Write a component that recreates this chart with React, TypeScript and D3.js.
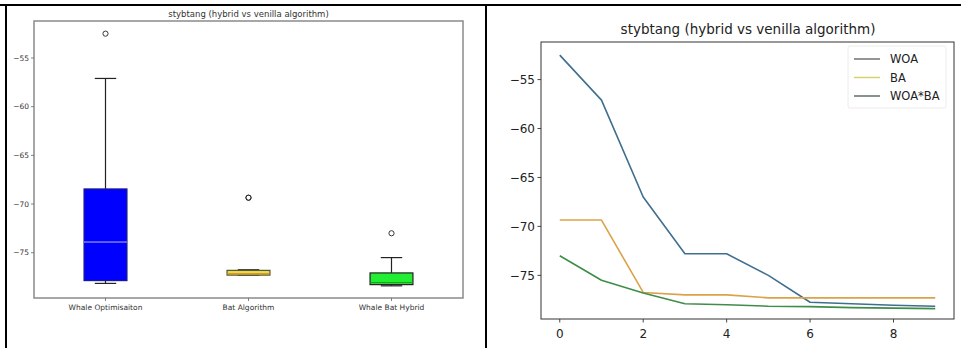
import React from "react";
import * as d3 from "d3";

// Best fitness per iteration for each algorithm (stybtang function)
const iterations = [0, 1, 2, 3, 4, 5, 6, 7, 8, 9];
const woa = [-52.5, -57.1, -67.0, -72.8, -72.8, -75.0, -77.75, -77.9, -78.05, -78.15];
const ba = [-69.35, -69.35, -76.75, -77.0, -77.0, -77.3, -77.3, -77.3, -77.3, -77.3];
const hybrid = [-73.0, -75.5, -76.8, -77.9, -78.0, -78.15, -78.2, -78.3, -78.35, -78.4];

const boxCategories = ["Whale Optimisaiton", "Bat Algorithm", "Whale Bat Hybrid"];
const legendLabels = ["WOA", "BA", "WOA*BA"];
const yTicks = [-55, -60, -65, -70, -75];
const xTicks = [0, 2, 4, 6, 8];
const title = "stybtang (hybrid vs venilla algorithm)";

const FONT = "DejaVu Sans, sans-serif";
const minus = (v: number) => String(v).replace("-", "\u2212");

type BoxStats = { q1: number; med: number; q3: number; lo: number; hi: number; out: number[] };

function boxStats(values: number[]): BoxStats {
  const s = [...values].sort(d3.ascending);
  const q1 = d3.quantile(s, 0.25)!;
  const med = d3.quantile(s, 0.5)!;
  const q3 = d3.quantile(s, 0.75)!;
  const iqr = q3 - q1;
  const inside = s.filter((v) => v >= q1 - 1.5 * iqr && v <= q3 + 1.5 * iqr);
  return {
    q1,
    med,
    q3,
    lo: d3.min(inside)!,
    hi: d3.max(inside)!,
    out: s.filter((v) => v < q1 - 1.5 * iqr || v > q3 + 1.5 * iqr),
  };
}

function BoxPanel() {
  const L = 34, R = 463, T = 21, B = 298;
  const x = d3.scalePoint<string>().domain(boxCategories).range([L, R]).padding(0.5);
  const y = d3.scaleLinear().domain([-79.65, -51.2]).range([B, T]);
  const bw = x.step() * 0.3;
  const series = [woa, ba, hybrid];
  const fills = ["#0000ff", "#e4dc4a", "#22ee33"];
  const edges = ["#1a1a8a", "#555533", "#222222"];
  const meds = ["#b8b8ff", "#e08a20", "#2a8a2a"];
  return (
    <g>
      <text x={(L + R) / 2} y={17} textAnchor="middle" fontSize={8.5} fontFamily={FONT} fill="#333">
        {title}
      </text>
      {series.map((vals, i) => {
        const st = boxStats(vals);
        const cx = x(boxCategories[i])!;
        return (
          <g key={i}>
            <line x1={cx} x2={cx} y1={y(st.q3)} y2={y(st.hi)} stroke="#222" strokeWidth={1.2} />
            <line x1={cx} x2={cx} y1={y(st.q1)} y2={y(st.lo)} stroke="#222" strokeWidth={1.2} />
            <line x1={cx - bw / 4} x2={cx + bw / 4} y1={y(st.hi)} y2={y(st.hi)} stroke="#222" strokeWidth={1.2} />
            <line x1={cx - bw / 4} x2={cx + bw / 4} y1={y(st.lo)} y2={y(st.lo)} stroke="#222" strokeWidth={1.2} />
            <rect
              x={cx - bw / 2}
              y={y(st.q3)}
              width={bw}
              height={y(st.q1) - y(st.q3)}
              fill={fills[i]}
              stroke={edges[i]}
              strokeWidth={1.2}
            />
            <line x1={cx - bw / 2} x2={cx + bw / 2} y1={y(st.med)} y2={y(st.med)} stroke={meds[i]} strokeWidth={1} />
            {st.out.map((v, j) => (
              <circle key={j} cx={cx} cy={y(v)} r={2.6} fill="none" stroke="#222" strokeWidth={0.9} />
            ))}
          </g>
        );
      })}
      <rect x={L} y={T} width={R - L} height={B - T} fill="none" stroke="#8a8a8a" strokeWidth={1.5} />
      {yTicks.map((t) => (
        <g key={t}>
          <line x1={L - 3} x2={L} y1={y(t)} y2={y(t)} stroke="#666" strokeWidth={0.8} />
          <text x={L - 5} y={y(t) + 2.6} textAnchor="end" fontSize={7.5} fontFamily={FONT} fill="#333">
            {minus(t)}
          </text>
        </g>
      ))}
      {boxCategories.map((c) => (
        <g key={c}>
          <line x1={x(c)} x2={x(c)} y1={B} y2={B + 3} stroke="#666" strokeWidth={0.8} />
          <text x={x(c)} y={B + 12} textAnchor="middle" fontSize={7.5} fontFamily={FONT} fill="#333">
            {c}
          </text>
        </g>
      ))}
    </g>
  );
}

function LinePanel() {
  const L = 541, R = 954, T = 42, B = 319;
  const x = d3.scaleLinear().domain([-0.45, 9.45]).range([L, R]);
  const y = d3.scaleLinear().domain([-79.46, -51.16]).range([B, T]);
  const line = d3
    .line<number>()
    .x((_, i) => x(iterations[i]))
    .y((d) => y(d));
  const series = [woa, ba, hybrid];
  const colors = ["#3f6f8f", "#dca24a", "#3f8d48"];
  const legendColors = ["#707070", "#d6d070", "#5f6f6a"];
  return (
    <g>
      <text x={748} y={34} textAnchor="middle" fontSize={13.5} fontFamily={FONT} fill="#222">
        {title}
      </text>
      {series.map((s, i) => (
        <path key={i} d={line(s)!} fill="none" stroke={colors[i]} strokeWidth={1.6} strokeLinejoin="round" />
      ))}
      <rect x={L} y={T} width={R - L} height={B - T} fill="none" stroke="#333" strokeWidth={1} />
      <rect x={848} y={46} width={98} height={62} fill="white" fillOpacity={0.8} stroke="#ececec" strokeWidth={1} rx={2} />
      {legendLabels.map((lab, i) => {
        const ly = 59 + i * 18.5;
        return (
          <g key={lab}>
            <line x1={854} x2={880} y1={ly} y2={ly} stroke={legendColors[i]} strokeWidth={1.5} />
            <text x={890} y={ly + 4.2} fontSize={11.5} fontFamily={FONT} fill="#222">
              {lab}
            </text>
          </g>
        );
      })}
      {yTicks.map((t) => (
        <g key={t}>
          <line x1={L - 3.5} x2={L} y1={y(t)} y2={y(t)} stroke="#333" strokeWidth={0.9} />
          <text x={L - 6} y={y(t) + 4.3} textAnchor="end" fontSize={12} fontFamily={FONT} fill="#222">
            {minus(t)}
          </text>
        </g>
      ))}
      {xTicks.map((t) => (
        <g key={t}>
          <line x1={x(t)} x2={x(t)} y1={B} y2={B + 3.5} stroke="#333" strokeWidth={0.9} />
          <text x={x(t)} y={B + 19} textAnchor="middle" fontSize={12} fontFamily={FONT} fill="#222">
            {t}
          </text>
        </g>
      ))}
    </g>
  );
}

export default function App() {
  return (
    <svg
      width={961}
      height={348}
      style={{ position: "absolute", left: 0, top: 0, background: "white" }}
    >
      <rect x={0} y={0} width={961} height={348} fill="white" />
      <BoxPanel />
      <LinePanel />
      {/* frame lines separating the two figures */}
      <line x1={0} x2={961} y1={5} y2={5} stroke="#000" strokeWidth={2} />
      <line x1={6} x2={6} y1={4} y2={348} stroke="#000" strokeWidth={2} />
      <line x1={486} x2={486} y1={4} y2={348} stroke="#000" strokeWidth={2} />
    </svg>
  );
}
